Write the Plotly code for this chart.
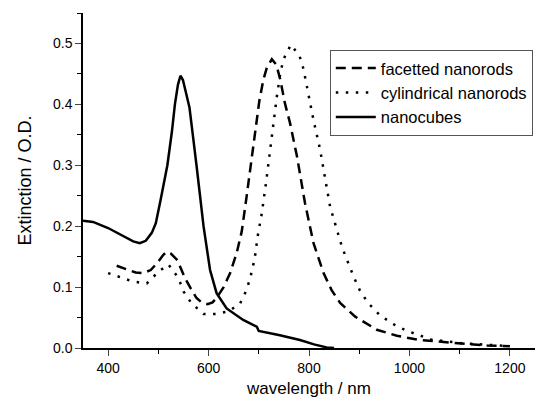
import plotly.graph_objects as go

# ---- data ----
cubes_wl = [350, 370, 400, 430, 450, 463, 475, 487, 495, 505, 518, 527, 533, 539, 544, 549, 555, 562, 576, 590, 603, 616, 636, 669, 696, 700, 742, 782, 810, 835, 850]
cubes_ext = [0.209, 0.207, 0.197, 0.184, 0.175, 0.172, 0.176, 0.189, 0.205, 0.245, 0.300, 0.355, 0.400, 0.432, 0.447, 0.440, 0.420, 0.395, 0.300, 0.200, 0.128, 0.090, 0.065, 0.046, 0.035, 0.028, 0.021, 0.013, 0.006, 0.001, 0.0]

fac_wl = [417, 437, 455, 470, 485, 500, 510, 517, 525, 538, 553, 565, 576, 586, 598, 608, 616, 630, 643, 656, 666, 676, 686, 695, 701, 709, 716, 726, 735, 743, 752, 762, 776, 792, 809, 829, 845, 862, 892, 935, 975, 1022, 1062, 1102, 1155, 1200]
fac_ext = [0.135, 0.129, 0.124, 0.123, 0.128, 0.142, 0.153, 0.158, 0.155, 0.144, 0.115, 0.097, 0.082, 0.075, 0.072, 0.075, 0.082, 0.100, 0.123, 0.156, 0.191, 0.250, 0.315, 0.370, 0.405, 0.440, 0.460, 0.474, 0.465, 0.440, 0.402, 0.370, 0.315, 0.238, 0.172, 0.123, 0.095, 0.074, 0.0515, 0.030, 0.020, 0.013, 0.010, 0.007, 0.004, 0.003]

cyl_wl = [400, 427, 450, 477, 500, 520, 540, 550, 566, 590, 613, 640, 663, 675, 683, 689, 694, 697, 706, 715, 723, 729, 736, 744, 752, 764, 781, 789, 799, 809, 822, 842, 866, 879, 889, 901, 917, 941, 967, 994, 1043, 1102, 1150, 1200]
cyl_ext = [0.123, 0.115, 0.109, 0.106, 0.125, 0.137, 0.115, 0.093, 0.0735, 0.056, 0.056, 0.060, 0.0735, 0.094, 0.115, 0.136, 0.158, 0.180, 0.221, 0.275, 0.331, 0.372, 0.413, 0.457, 0.479, 0.498, 0.480, 0.458, 0.416, 0.374, 0.326, 0.232, 0.165, 0.136, 0.117, 0.095, 0.0745, 0.054, 0.0395, 0.0285, 0.014, 0.008, 0.005, 0.003]

x_tick_vals = [400, 600, 800, 1000, 1200]
y_tick_vals = [0.0, 0.1, 0.2, 0.3, 0.4, 0.5]

FONT = "Liberation Sans, Arial, sans-serif"

fig = go.Figure()
fig.add_trace(go.Scatter(x=fac_wl, y=fac_ext, mode="lines", name="facetted nanorods",
                         line=dict(color="black", width=2.5, dash="10px,6px")))
fig.add_trace(go.Scatter(x=cyl_wl, y=cyl_ext, mode="lines", name="cylindrical nanorods",
                         line=dict(color="black", width=2.5, dash="2.5px,7.5px")))
fig.add_trace(go.Scatter(x=cubes_wl, y=cubes_ext, mode="lines", name="nanocubes",
                         line=dict(color="black", width=2.5)))

fig.update_layout(
    width=537, height=401,
    margin=dict(l=83, r=2, t=13, b=53),
    paper_bgcolor="white", plot_bgcolor="white",
    font=dict(family=FONT, color="black", size=14),
    legend=dict(x=0.546, y=0.89, xanchor="left", yanchor="top",
                bordercolor="#555", borderwidth=1, bgcolor="white",
                font=dict(size=16.5), tracegroupgap=0, itemwidth=40),
    showlegend=True,
)
fig.update_xaxes(
    range=[350, 1250], tickvals=x_tick_vals, ticks="outside", ticklen=6, tickwidth=1.2,
    showline=True, linecolor="black", linewidth=1.5, showgrid=False, zeroline=False,
    minor=dict(dtick=100, tick0=400, ticks="outside", ticklen=4, tickwidth=1.2, tickcolor="black", showgrid=False),
    title=dict(text="wavelength / nm", font=dict(size=17), standoff=8),
    tickfont=dict(size=14), automargin=False,
)
fig.update_yaxes(
    range=[0, 0.55], tickvals=y_tick_vals, tickformat=".1f", ticks="outside", ticklen=6, tickwidth=1.2,
    showline=True, linecolor="black", linewidth=1.5, showgrid=False, zeroline=False,
    minor=dict(dtick=0.05, tick0=0, ticks="outside", ticklen=4, tickwidth=1.2, tickcolor="black", showgrid=False),
    title=dict(text="Extinction / O.D.", font=dict(size=18), standoff=17),
    tickfont=dict(size=14), automargin=False,
)

fig.write_html("out.html", config={"displayModeBar": False},
               post_script="document.body.style.margin='0';document.body.style.padding='0';")
